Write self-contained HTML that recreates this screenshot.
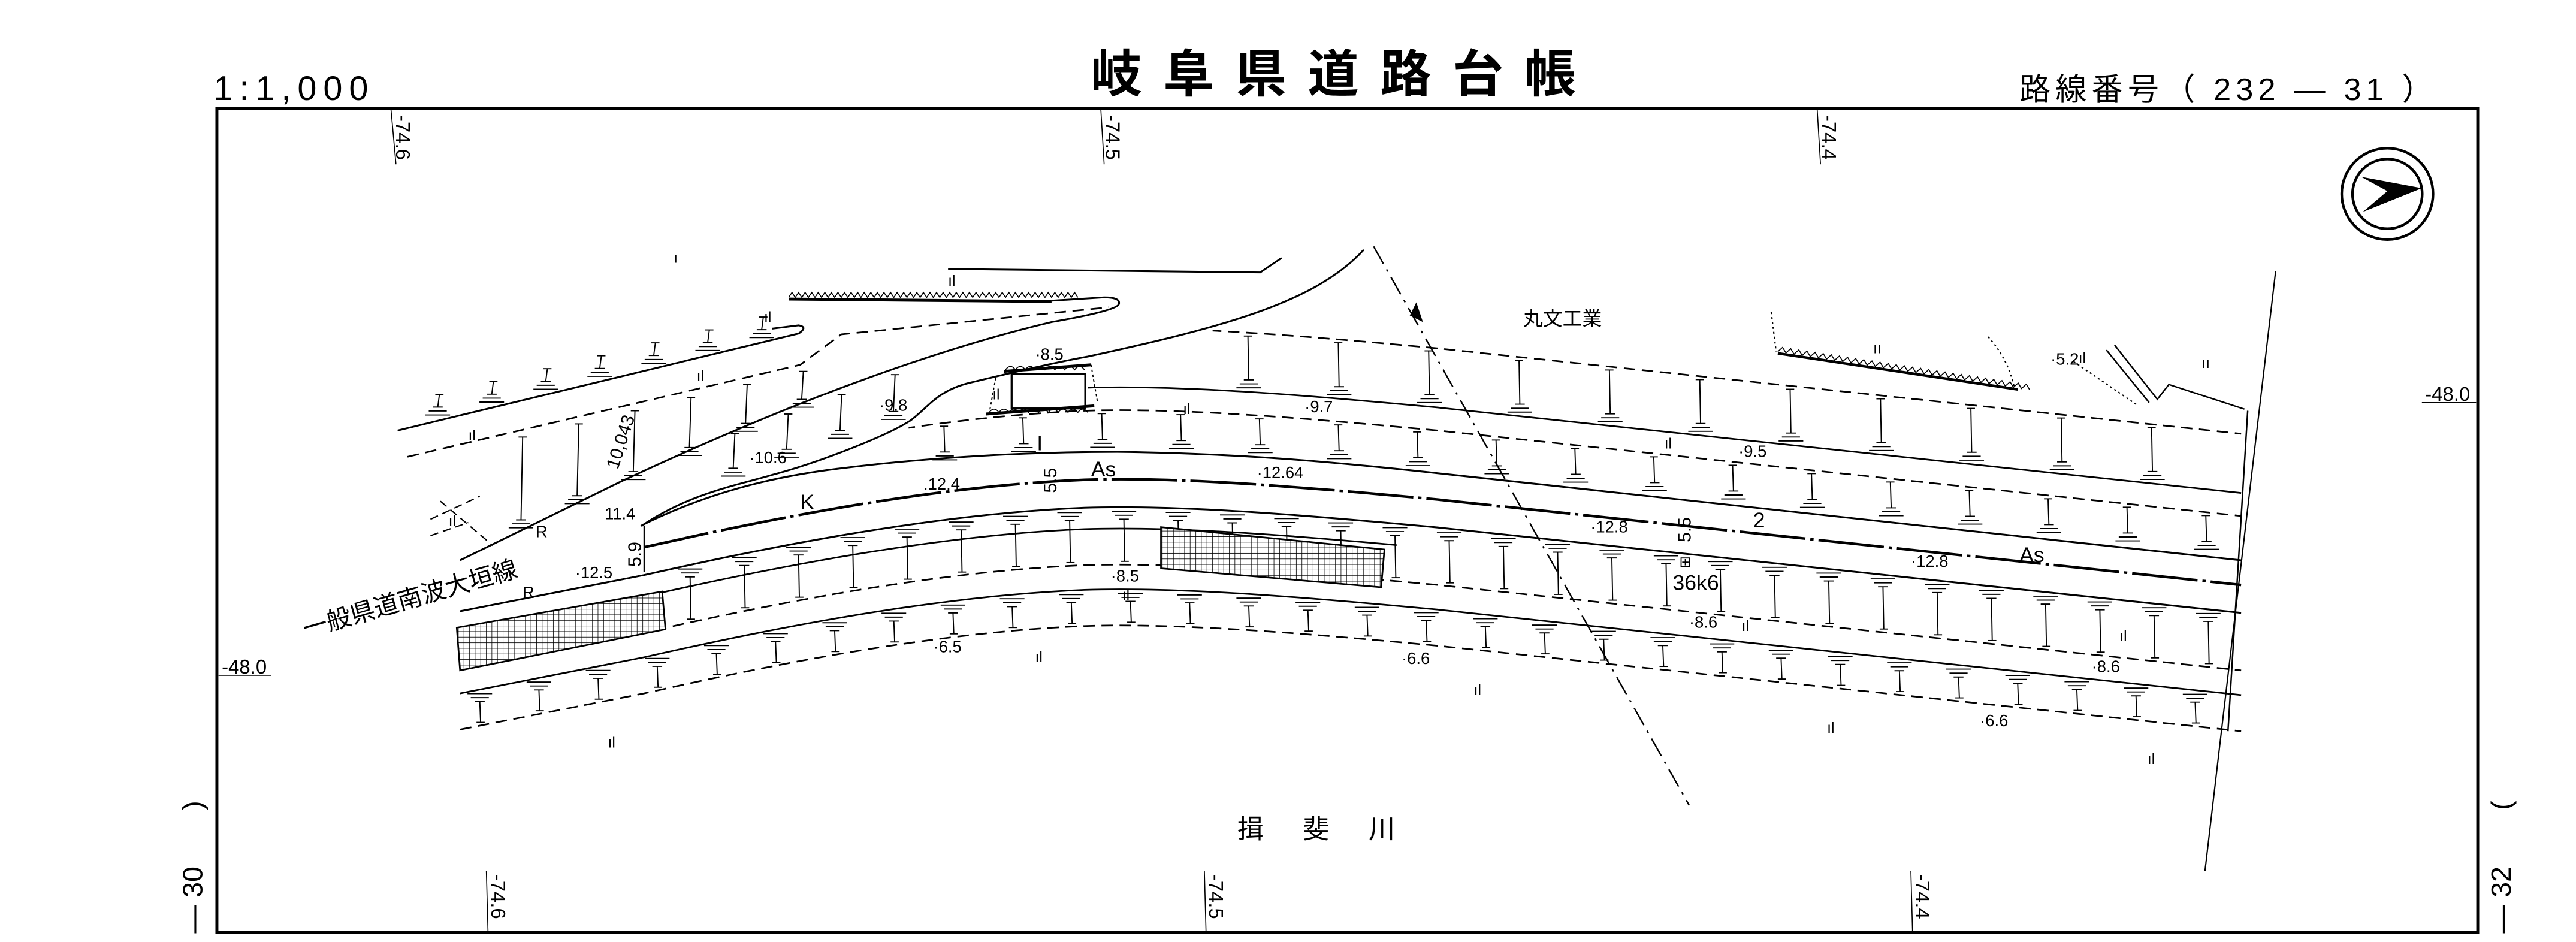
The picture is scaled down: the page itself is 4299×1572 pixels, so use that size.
<!DOCTYPE html>
<html><head><meta charset="utf-8">
<style>
html,body{margin:0;padding:0;background:#fff;}
svg{display:block;}
text{font-family:"Liberation Sans","Noto Sans CJK JP",sans-serif;fill:#000;}
</style></head>
<body>
<svg id="s" xmlns="http://www.w3.org/2000/svg" width="4299" height="1572" viewBox="0 0 1567.8 573.3" preserveAspectRatio="none">
<defs>
<path id="tp" d="M280,355 L392,333 C450,320 560,296 660,292 C720,290 800,297 875,304 L1364,356" fill="none"/>
<pattern id="grid" width="3.4" height="3.4" patternUnits="userSpaceOnUse">
<rect width="3.4" height="3.4" fill="#fff"/>
<path d="M0,0 H3.4 M0,0 V3.4" stroke="#000" stroke-width="0.6"/>
</pattern>
<clipPath id="c553"><rect x="553" y="0" width="900" height="600"/></clipPath>
<clipPath id="c660"><rect x="662" y="0" width="900" height="600"/></clipPath>
<clipPath id="c738"><rect x="738" y="0" width="900" height="600"/></clipPath>
<clipPath id="c850"><rect x="0" y="0" width="850" height="600"/></clipPath>
</defs>
<rect width="1567.8" height="573.3" fill="#fff"/>

<!-- header -->
<text x="130" y="61" font-size="21" letter-spacing="4">1:1,000</text>
<text x="818" y="56" font-size="31" font-weight="bold" text-anchor="middle" letter-spacing="13">岐阜県道路台帳</text>
<text x="1229" y="61" font-size="19" letter-spacing="3">路線番号（ 232 ― 31 ）</text>

<!-- frame -->
<rect x="132" y="66" width="1376" height="501.5" fill="none" stroke="#000" stroke-width="1.8"/>

<!-- grid labels -->
<g font-size="12">
<line x1="238" y1="67" x2="241" y2="100" stroke="#000" stroke-width="0.6"/>
<text transform="translate(241,70) rotate(90)">-74.6</text>
<line x1="670" y1="67" x2="672" y2="100" stroke="#000" stroke-width="0.6"/>
<text transform="translate(673,70) rotate(90)">-74.5</text>
<line x1="1106" y1="67" x2="1108" y2="100" stroke="#000" stroke-width="0.6"/>
<text transform="translate(1109,70) rotate(90)">-74.4</text>
<line x1="296" y1="530" x2="297" y2="567" stroke="#000" stroke-width="0.6"/>
<text transform="translate(299,532) rotate(90)">-74.6</text>
<line x1="733" y1="530" x2="734" y2="567" stroke="#000" stroke-width="0.6"/>
<text transform="translate(736,532) rotate(90)">-74.5</text>
<line x1="1163" y1="530" x2="1164" y2="567" stroke="#000" stroke-width="0.6"/>
<text transform="translate(1166,532) rotate(90)">-74.4</text>
<line x1="133" y1="411" x2="165" y2="411" stroke="#000" stroke-width="0.6"/>
<text x="135" y="410">-48.0</text>
<line x1="1474" y1="245" x2="1507" y2="245" stroke="#000" stroke-width="0.6"/>
<text x="1476" y="244">-48.0</text>
</g>
<g font-size="17">
<text transform="translate(123,493) rotate(-90)">)</text>
<text transform="translate(123,568) rotate(-90)">— 30</text>
<text transform="translate(1528,493) rotate(-90)">(</text>
<text transform="translate(1528,568) rotate(-90)">— 32</text>
</g>

<!-- compass -->
<circle cx="1453" cy="118" r="27.8" fill="none" stroke="#000" stroke-width="1.6"/>
<circle cx="1453" cy="118" r="21.2" fill="none" stroke="#000" stroke-width="1.6"/>
<polygon points="1437,107.6 1474,114.5 1438,129 1453,116.3" fill="#000"/>

<g id="marks" stroke="#000" stroke-width="0.7" fill="none"></g>

<!-- main lines -->
<g fill="none" stroke="#000">
<path d="M392,333 C450,320 560,296 660,292 C720,290 800,297 875,304 L1364,356" stroke-width="1.6" stroke-dasharray="40,3,2,3"/>
<path d="M390,320 C430,300 470,290 512,285 C560,279 620,275 680,275 C760,276 820,282 875,288 L1364,341" stroke-width="1.1"/>
<use href="#tp" transform="translate(0,17)" stroke-width="1.1"/>
<use href="#tp" transform="translate(0,30)" stroke-width="1" clip-path="url(#c850)"/>
<use href="#tp" transform="translate(0,52)" stroke-width="1" stroke-dasharray="7,4"/>
<use href="#tp" transform="translate(0,67)" stroke-width="1"/>
<use href="#tp" transform="translate(0,89)" stroke-width="1" stroke-dasharray="7,4"/>
<use href="#tp" transform="translate(0,-42)" stroke-width="1" stroke-dasharray="7,4" clip-path="url(#c553)"/>
<use href="#tp" transform="translate(0,-56)" stroke-width="1" clip-path="url(#c660)"/>
<use href="#tp" transform="translate(0,-92)" stroke-width="1" stroke-dasharray="7,4" clip-path="url(#c738)"/>
<line x1="1368" y1="250" x2="1356" y2="445" stroke-width="0.9"/>
<line x1="1385" y1="165" x2="1342" y2="530" stroke-width="0.8"/>

<!-- branch road -->
<path d="M242,262 L486,203 Q492,199 486,198 L470,200" stroke-width="1.1"/>
<path d="M248,278 L487,222 L512,203.5 L675,187" stroke-width="1" stroke-dasharray="7,4"/>
<path d="M280,341 L378,293 C470,250 560,215 640,196 Q680,189 681,185 Q682,181 672,181 L640,183" stroke-width="1.1"/>
<path d="M480,182 L640,183.5" stroke-width="1.8"/>
<path d="M480,181 l2,-3 l2,3 l2,-3 l2,3 l2,-3 l2,3 l2,-3 l2,3 l2,-3 l2,3 l2,-3 l2,3 l2,-3 l2,3 l2,-3 l2,3 l2,-3 l2,3 l2,-3 l2,3 l2,-3 l2,3 l2,-3 l2,3 l2,-3 l2,3 l2,-3 l2,3 l2,-3 l2,3 l2,-3 l2,3 l2,-3 l2,3 l2,-3 l2,3 l2,-3 l2,3 l2,-3 l2,3 l2,-3 l2,3 l2,-3 l2,3 l2,-3 l2,3 l2,-3 l2,3 l2,-3 l2,3 l2,-3 l2,3 l2,-3 l2,3 l2,-3 l2,3 l2,-3 l2,3 l2,-3 l2,3 l2,-3 l2,3 l2,-3 l2,3 l2,-3 l2,3 l2,-3 l2,3 l2,-3 l2,3 l2,-3 l2,3 l2,-3 l2,3 l2,-3 l2,3 l2,-3 l2,3 l2,-3 l2,3 l2,-3 l2,3 l2,-3 l2,3 l2,-3 l2,3 l2,-3 l2,3" stroke-width="0.6"/>
<path d="M390.5,320 C420,300 450,295 470,289 C500,281 540,265 554,256 C565,248 570,238 590,233 C615,227 640,221 662,217 C740,200 800,185 830,152" stroke-width="1.1"/>
<path d="M577,163.7 L767,165.8 L780,157" stroke-width="1.1"/>
<path d="M392,320 L392,348" stroke-width="0.8"/>
<path d="M262,316 L292,302 M268,305 L300,332 M262,326 L285,318" stroke-width="0.8" stroke-dasharray="5,3"/>
<!-- Y box -->
<rect x="615.7" y="227.6" width="44.8" height="21" stroke-width="1.2"/>
<path d="M611,226 L664,222 M600,252 L666,247" stroke-width="1.8"/>
<path d="M606,230 L602,252 M664,222 L668,245" stroke-width="0.7" stroke-dasharray="1.5,1.5"/>
<path d="M612,225 q3,-4 6,0 q3,-4 6,0 q3,-4 6,0 q3,-4 6,0 q3,-4 6,0 q3,-4 6,0 q3,-4 6,0 q3,-4 6,0 M602,251 q3,-4 6,0 q3,-4 6,0 q3,-4 6,0 q3,-4 6,0 q3,-4 6,0 q3,-4 6,0 q3,-4 6,0 q3,-4 6,0 q3,-4 6,0 q3,-4 6,0" stroke-width="0.6"/>
<!-- diagonal dash-dot -->
<path d="M836,150 L1028,490" stroke-width="0.9" stroke-dasharray="12,4,1.5,4"/>
<polygon points="862,184 866,196 858,192" fill="#000" stroke="none"/>
<!-- right top features -->
<path d="M1082,215 L1228,237" stroke-width="1.6"/>
<path d="M1082,214 l2.5,-3 l2.5,3 l2.5,-3 l2.5,3 l2.5,-3 l2.5,3 l2.5,-3 l2.5,3 l2.5,-3 l2.5,3 l2.5,-3 l2.5,3 l2.5,-3 l2.5,3 l2.5,-3 l2.5,3 l2.5,-3 l2.5,3 l2.5,-3 l2.5,3 l2.5,-3 l2.5,3 l2.5,-3 l2.5,3 l2.5,-3 l2.5,3 l2.5,-3 l2.5,3 l2.5,-3 l2.5,3 l2.5,-3 l2.5,3 l2.5,-3 l2.5,3 l2.5,-3 l2.5,3 l2.5,-3 l2.5,3 l2.5,-3 l2.5,3 l2.5,-3 l2.5,3 l2.5,-3 l2.5,3 l2.5,-3 l2.5,3 l2.5,-3 l2.5,3 l2.5,-3 l2.5,3 l2.5,-3 l2.5,3 l2.5,-3 l2.5,3 l2.5,-3 l2.5,3 l2.5,-3 l2.5,3 l2.5,-3 l2.5,3 l2.5,-3 l2.5,3" stroke-width="0.6" transform="rotate(8.6 1082 214)"/>
<path d="M1078,190 L1081,214 M1210,205 Q1222,218 1226,236 M1262,220 L1300,246" stroke-width="0.8" stroke-dasharray="1.2,1.8"/>
<path d="M1282,213 L1308,245 M1287,210 L1313,243 L1320,234 L1366,249" stroke-width="0.9"/>
</g>

<!-- hatched areas -->
<polygon points="278,382 403,360 405,383 280,408" fill="url(#grid)" stroke="#000" stroke-width="1"/>
<polygon points="706.6,320.8 842.6,334.4 840.6,357.4 706.6,345.9" fill="url(#grid)" stroke="#000" stroke-width="1"/>

<!-- labels -->
<g font-size="10">
<text x="630" y="219">·8.5</text>
<text x="535" y="250">·9.8</text>
<text x="456" y="282">·10.6</text>
<text x="368" y="316">11.4</text>
<text x="350" y="352">·12.5</text>
<text x="562" y="298">.12.4</text>
<text x="765" y="291">·12.64</text>
<text x="794" y="251">·9.7</text>
<text x="1058" y="278">·9.5</text>
<text x="968" y="324">·12.8</text>
<text x="1163" y="345">·12.8</text>
<text x="676" y="354">·8.5</text>
<text x="1028" y="382">·8.6</text>
<text x="1273" y="409">·8.6</text>
<text x="853" y="404">·6.6</text>
<text x="568" y="397">·6.5</text>
<text x="1205" y="442">·6.6</text>
<text x="1248" y="222">·5.2</text>
<text x="326" y="327">R</text>
<text x="318" y="364">R</text>
</g>
<g font-size="13">
<text x="664" y="290">As</text>
<text x="1229" y="342">As</text>
<text x="487" y="310">K</text>
<text x="631" y="274">I</text>
<text x="1067" y="321">2</text>
<text x="1018" y="359">36k6</text>
<text x="1022" y="345" font-size="9">⊞</text>
</g>
<g font-size="11">
<text transform="translate(376,286) rotate(-72)">10,043</text>
<text transform="translate(390,345) rotate(-90)">5.9</text>
<text transform="translate(643,300) rotate(-90)">5.5</text>
<text transform="translate(1029,330) rotate(-90)">5.5</text>
</g>
<text x="927" y="198" font-size="12">丸文工業</text>
<text x="753" y="510" font-size="16" letter-spacing="24">揖斐川</text>
<text transform="translate(186,388) rotate(-16)" font-size="15">一般県道南波大垣線</text>
<g font-size="9">
<text x="465" y="196">ıl</text><text x="577" y="174">ıl</text><text x="424" y="232">ıl</text>
<text x="285" y="268">ıl</text><text x="273" y="320">ıl</text><text x="604" y="243">ıl</text>
<text x="720" y="252">ıl</text><text x="1013" y="273">ıl</text><text x="1060" y="384">ıl</text>
<text x="630" y="403">ıl</text><text x="897" y="423">ıl</text><text x="370" y="455">ıl</text>
<text x="1112" y="446">ıl</text><text x="1307" y="465">ıl</text><text x="1290" y="390">ıl</text>
<text x="1265" y="221">ıl</text><text x="1140" y="215">ıı</text><text x="1340" y="224">ıı</text>
<text x="410" y="160">ı</text><text x="683" y="365">ıl</text>
</g>
</svg>
<script>
(function(){
var NS="http://www.w3.org/2000/svg";
var g=document.getElementById('marks');
var p=document.getElementById('tp');
var L=p.getTotalLength(),pts=[];
for(var i=0;i<=600;i++){var q=p.getPointAtLength(L*i/600);pts.push([q.x,q.y]);}
function yAt(x){for(var i=1;i<pts.length;i++){if(pts[i][0]>=x){var a=pts[i-1],b=pts[i];var t=(b[0]-a[0])?(x-a[0])/(b[0]-a[0]):0;return a[1]+t*(b[1]-a[1]);}}return pts[pts.length-1][1];}
function ln(x1,y1,x2,y2){var l=document.createElementNS(NS,'line');l.setAttribute('x1',x1);l.setAttribute('y1',y1);l.setAttribute('x2',x2);l.setAttribute('y2',y2);g.appendChild(l);}
function mark(sx,sy,ex,ey){
 var dy=ey>sy?1:-1;
 var ws=[15,11,6];
 for(var k=0;k<3;k++){var yy=sy+dy*(2.5+k*2.4);ln(sx-ws[k]/2,yy,sx+ws[k]/2,yy);}
 ln(sx,sy+dy*7.3,ex,ey);
 ln(ex-2.5,ey,ex+2.5,ey);
}
function band(so,do_,x0,x1,st){for(var x=x0;x<=x1;x+=st){var y=yAt(x);mark(x,y+so,x+(do_>so?1:-1)*0.5,y+do_-(do_>so?2:-2));}}
band(17,52,420,1345,33);
band(67,89,292,1345,36);
band(-17,-42,575,1345,48);
band(-56,-92,760,1345,55);
function lband(a0,a1,b0,b1,n){for(var i=0;i<n;i++){var t=(i+0.5)/n;var sx=a0[0]+(a1[0]-a0[0])*t,sy=a0[1]+(a1[1]-a0[1])*t;var ey=b0[1]+(b1[1]-b0[1])*t;mark(sx,sy,sx+1,ey);}}
lband([250,259],[480,204],[250,244],[480,189],7);
lband([300,331],[505,243],[300,270],[505,222],6);
lband([430,298],[560,252],[430,270],[560,222],4);
})();
</script>
</body></html>
